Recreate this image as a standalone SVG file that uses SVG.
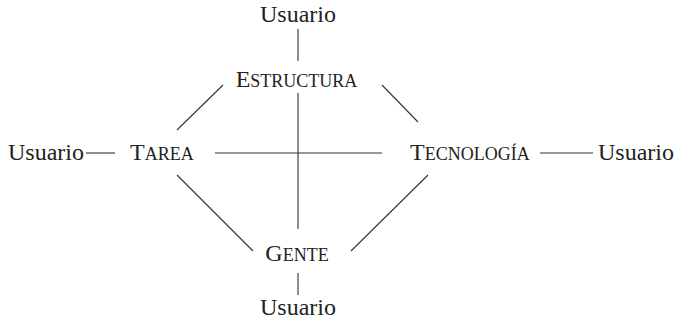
<svg xmlns="http://www.w3.org/2000/svg" width="675" height="321" viewBox="0 0 675 321">
<style>
text{font-family:"Liberation Serif","Times New Roman",serif;font-size:24px;fill:#222}
.sc{font-size:18px}
#connectors line{stroke:#333;stroke-width:1.1;fill:none}
</style>
<rect width="675" height="321" fill="#fff"/>
<g id="connectors">
<line x1="298" y1="29" x2="298" y2="61"/>
<line x1="298" y1="93" x2="298" y2="229"/>
<line x1="298" y1="273" x2="298" y2="295"/>
<line x1="86" y1="153" x2="115" y2="153"/>
<line x1="215" y1="153" x2="382" y2="153"/>
<line x1="540" y1="153" x2="593" y2="153"/>
<line x1="223" y1="85" x2="177" y2="130"/>
<line x1="382" y1="85" x2="418" y2="122"/>
<line x1="177" y1="175" x2="253" y2="251"/>
<line x1="428" y1="175" x2="351" y2="251"/>
</g>
<g id="usuario-top"><text x="298" y="22" text-anchor="middle">Usuario</text></g>
<g id="estructura"><text x="296.5" y="87" text-anchor="middle">E<tspan class="sc">STRUCTURA</tspan></text></g>
<g id="usuario-left"><text x="8" y="160">Usuario</text></g>
<g id="tarea"><text x="130" y="160">T<tspan class="sc">AREA</tspan></text></g>
<g id="tecnologia"><text x="410" y="160">T<tspan class="sc">ECNOLOGÍA</tspan></text></g>
<g id="usuario-right"><text x="598" y="160">Usuario</text></g>
<g id="gente"><text x="297" y="261" text-anchor="middle">G<tspan class="sc">ENTE</tspan></text></g>
<g id="usuario-bottom"><text x="298" y="315" text-anchor="middle">Usuario</text></g>
</svg>
